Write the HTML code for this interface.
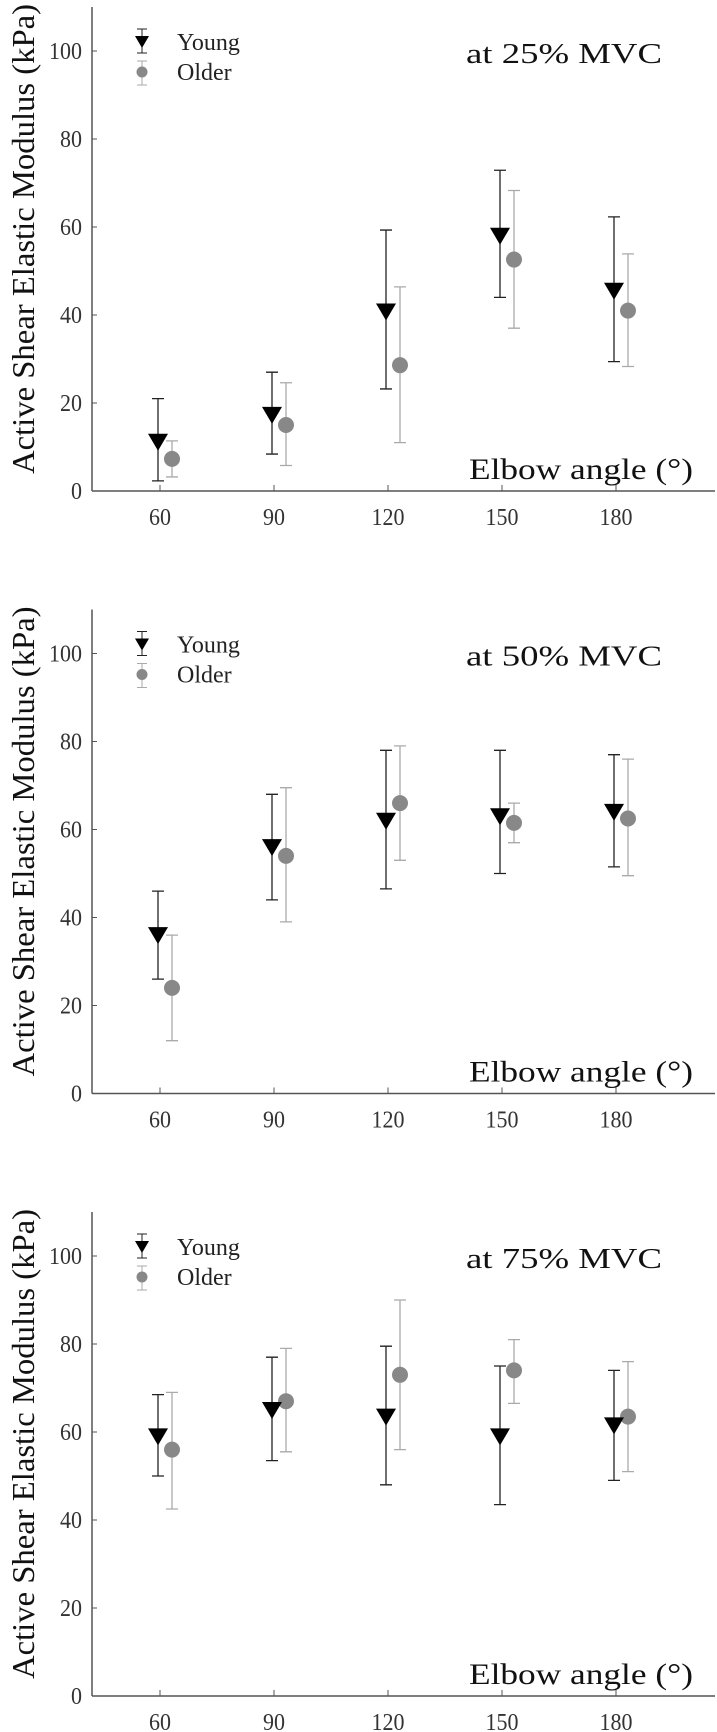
<!DOCTYPE html>
<html><head><meta charset="utf-8">
<style>
html,body{margin:0;padding:0;background:#fff;}
svg{display:block;font-family:"Liberation Serif",serif;}
</style></head>
<body>
<svg id="fig" width="717" height="1732" viewBox="0 0 717 1732"></svg>
<script>
const categories = [60, 90, 120, 150, 180];
const yTicks = [0, 20, 40, 60, 80, 100];
const panelTitles = ["at 25% MVC", "at 50% MVC", "at 75% MVC"];
const youngMean = [[11.2, 17.3, 40.8, 58, 45.5], [36, 56, 62, 63, 64], [59, 65, 63.5, 59, 61.5]];
const youngHi = [[21, 27, 59.3, 72.9, 62.3], [46, 68, 78, 78, 77], [68.5, 77, 79.5, 75, 74]];
const youngLo = [[2.3, 8.4, 23.2, 44, 29.4], [26, 44, 46.5, 50, 51.5], [50, 53.5, 48, 43.5, 49]];
const olderMean = [[7.3, 15, 28.6, 52.6, 41], [24, 54, 66, 61.5, 62.5], [56, 67, 73, 74, 63.5]];
const olderHi = [[11.4, 24.6, 46.4, 68.3, 53.9], [36, 69.5, 79, 66, 76], [69, 79, 90, 81, 76]];
const olderLo = [[3.2, 5.8, 11, 37, 28.3], [12, 39, 53, 57, 49.5], [42.5, 55.5, 56, 66.5, 51]];

const NS = "http://www.w3.org/2000/svg";
const svg = document.getElementById("fig");
function mk(tag, attrs, parent) {
  const e = document.createElementNS(NS, tag);
  for (const k in attrs) e.setAttribute(k, attrs[k]);
  (parent || svg).appendChild(e);
  return e;
}
const X0 = 92, XR = 715;
function xs(v) { return 160 + (v - 60) * 114 / 30; }
for (let p = 0; p < 3; p++) {
  const base = 491 + p * 602.5;
  const ys = v => base - v * 4.4;
  const g = mk("g", {});
  
  
  const yax = mk("line", {x1: X0, y1: ys(110), x2: X0, y2: base, stroke: "#555", "stroke-width": 1.5}, g);
  
  
  const xax = mk("line", {x1: X0, y1: base, x2: XR, y2: base, stroke: "#555", "stroke-width": 1.5}, g);
  
  
  yTicks.forEach(t => {
    mk("line", {x1: X0, y1: ys(t), x2: X0 + 5, y2: ys(t), stroke: "#555", "stroke-width": 1}, g);
    const tl = mk("text", {x: X0 - 10, y: ys(t) + 8, "text-anchor": "end", "font-size": 24, fill: "#333", textLength: String(t).length * 11, lengthAdjust: "spacingAndGlyphs"}, g);
    tl.textContent = t;
    
    
  });
  categories.forEach(c => {
    mk("line", {x1: xs(c), y1: base, x2: xs(c), y2: base - 6, stroke: "#555", "stroke-width": 1}, g);
    const tl = mk("text", {x: xs(c), y: base + 34, "text-anchor": "middle", "font-size": 24, fill: "#333", textLength: String(c).length * 11, lengthAdjust: "spacingAndGlyphs"}, g);
    tl.textContent = c;
    
    
  });
  const yt = mk("text", {x: 0, y: 0, "text-anchor": "middle", "font-size": 32, fill: "#111", textLength: 470, lengthAdjust: "spacingAndGlyphs",
    transform: "translate(34," + (base - 252) + ") rotate(-90)"}, g);
  yt.textContent = "Active Shear Elastic Modulus (kPa)";
  
  
  const xt = mk("text", {x: 469, y: base - 12, "font-size": 30, fill: "#111", textLength: 224, lengthAdjust: "spacingAndGlyphs"}, g);
  xt.textContent = "Elbow angle (°)";
  
  
  const tt = mk("text", {x: 466, y: base - 428, "font-size": 29, fill: "#111", textLength: 196, lengthAdjust: "spacingAndGlyphs"}, g);
  tt.textContent = panelTitles[p];
  
  
  const ly = base - 449, oy = base - 419;
  mk("line", {x1: 142, y1: ly - 13, x2: 142, y2: ly + 11, stroke: "#222", "stroke-width": 1}, g);
  mk("line", {x1: 137, y1: ly - 13, x2: 147, y2: ly - 13, stroke: "#222", "stroke-width": 1}, g);
  mk("line", {x1: 137, y1: ly + 11, x2: 147, y2: ly + 11, stroke: "#222", "stroke-width": 1}, g);
  const lt = mk("path", {d: `M${135},${ly - 6} L${149},${ly - 6} L${142},${ly + 6} Z`, fill: "#000"}, g);
  
  
  const ltx = mk("text", {x: 177, y: ly + 8, "font-size": 24, fill: "#222"}, g);
  ltx.textContent = "Young";
  
  
  mk("line", {x1: 142, y1: oy - 11, x2: 142, y2: oy + 13, stroke: "#aaa", "stroke-width": 1}, g);
  mk("line", {x1: 137, y1: oy - 11, x2: 147, y2: oy - 11, stroke: "#aaa", "stroke-width": 1}, g);
  mk("line", {x1: 137, y1: oy + 13, x2: 147, y2: oy + 13, stroke: "#aaa", "stroke-width": 1}, g);
  const lc = mk("circle", {cx: 142, cy: oy, r: 5.5, fill: "#888"}, g);
  
  
  const lcx = mk("text", {x: 177, y: oy + 8, "font-size": 24, fill: "#222"}, g);
  lcx.textContent = "Older";
  
  
  categories.forEach((c, i) => {
    const xo = xs(c) + 12;
    const eo = mk("path", {d: `M${xo},${ys(olderHi[p][i])}V${ys(olderLo[p][i])}M${xo - 6},${ys(olderHi[p][i])}H${xo + 6}M${xo - 6},${ys(olderLo[p][i])}H${xo + 6}`, stroke: "#aaa", "stroke-width": 1.3, fill: "none"}, g);
    
    
    const co = mk("circle", {cx: xo, cy: ys(olderMean[p][i]), r: 8, fill: "#888"}, g);
    
    
    const xy = xs(c) - 2;
    const ey = mk("path", {d: `M${xy},${ys(youngHi[p][i])}V${ys(youngLo[p][i])}M${xy - 6},${ys(youngHi[p][i])}H${xy + 6}M${xy - 6},${ys(youngLo[p][i])}H${xy + 6}`, stroke: "#222", "stroke-width": 1.3, fill: "none"}, g);
    
    
    const yv = ys(youngMean[p][i]);
    const ty = mk("path", {d: `M${xy - 10},${yv - 8} L${xy + 10},${yv - 8} L${xy},${yv + 9} Z`, fill: "#000"}, g);
    
    
  });
}
</script>
</body></html>
